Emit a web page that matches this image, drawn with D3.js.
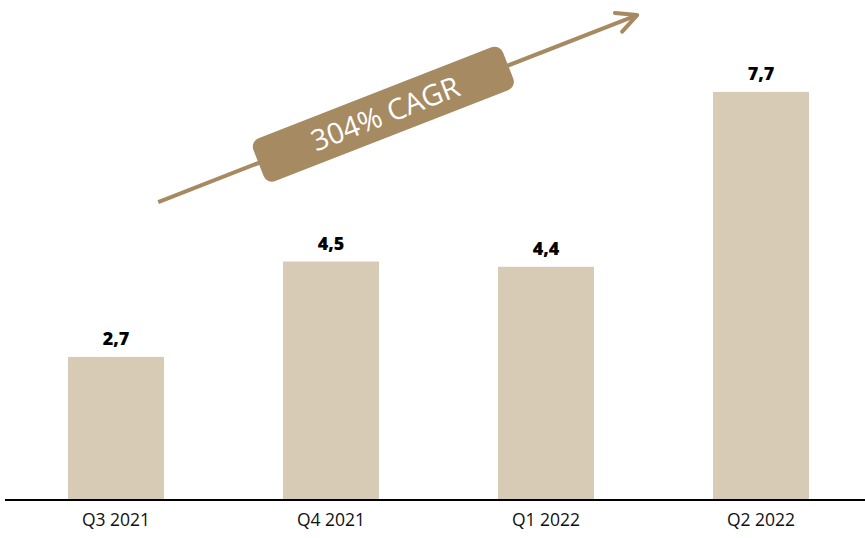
<!DOCTYPE html>
<html>
<head>
<meta charset="utf-8">
<script src="https://cdn.jsdelivr.net/npm/d3@7"></script>
<style>
  body { margin: 0; background: #fff; }
  svg { display: block; }
</style>
</head>
<body>
<div id="chart"></div>
<script>
const quarters = ['Q3 2021', 'Q4 2021', 'Q1 2022', 'Q2 2022'];
const values = [2.7, 4.5, 4.4, 7.7];
const valueLabels = ['2,7', '4,5', '4,4', '7,7'];
const cagrLabel = '304% CAGR';

const width = 865;
const height = 538;
const baseY = 500;

const barColour = '#d8cbb6';
const accent = '#a68a62';

const svg = d3.select('#chart')
     .append('svg')
          .attr('width', width)
          .attr('height', height);

const xScale = d3.scaleBand()
     .domain(quarters)
     .range([8.5, 868.5])
     .paddingInner(0.5535)
     .paddingOuter(0.27675);

const yScale = d3.scaleLinear()
     .domain([0, 8])
     .range([baseY, baseY - 424]);

// bars
svg.selectAll('rect.bar')
     .data(quarters)
     .enter()
          .append('rect')
               .attr('class', 'bar')
               .attr('x', (d) => xScale(d))
               .attr('y', (d, i) => yScale(values[i]))
               .attr('width', xScale.bandwidth())
               .attr('height', (d, i) => baseY - yScale(values[i]))
               .attr('fill', barColour);

// value labels
svg.selectAll('text.value')
     .data(quarters)
     .enter()
          .append('text')
               .attr('class', 'value')
               .attr('x', (d) => xScale(d) + xScale.bandwidth() / 2)
               .attr('y', (d, i) => yScale(values[i]) - 12)
               .attr('text-anchor', 'middle')
               .attr('font-family', 'Open Sans, sans-serif')
               .attr('font-weight', 800)
               .attr('font-size', 18)
               .attr('fill', '#000')
               .text((d, i) => valueLabels[i]);

// x axis
const xAxis = svg.append('g')
     .attr('transform', `translate(0, ${baseY})`)
     .call(d3.axisBottom(xScale).tickSize(0).tickPadding(14));
xAxis.select('.domain').remove();
xAxis.selectAll('text')
     .attr('font-family', 'Open Sans, sans-serif')
     .attr('font-size', 17.5)
     .attr('fill', '#111');

svg.append('line')
     .attr('x1', 5)
     .attr('x2', width)
     .attr('y1', yScale(0))
     .attr('y2', yScale(0))
     .attr('stroke', '#000')
     .attr('stroke-width', 2);

// growth arrow
const bw = xScale.bandwidth();
const start = [xScale(quarters[0]) + bw * 0.94, yScale(5.62)];
const end = [xScale(quarters[3]) - bw * 0.79, yScale(9.15)];
const angle = Math.atan2(end[1] - start[1], end[0] - start[0]) * 180 / Math.PI;
const len = Math.hypot(end[0] - start[0], end[1] - start[1]);

const arrow = svg.append('g')
     .attr('transform', `translate(${start[0]}, ${start[1]}) rotate(${angle})`);

arrow.append('line')
     .attr('x1', 0)
     .attr('x2', len)
     .attr('y1', 0)
     .attr('y2', 0)
     .attr('stroke', accent)
     .attr('stroke-width', 4);

arrow.append('path')
     .attr('d', `M${len - 20},-10 L${len},0 L${len - 20},10`)
     .attr('fill', 'none')
     .attr('stroke', accent)
     .attr('stroke-width', 4)
     .attr('stroke-linecap', 'round')
     .attr('stroke-linejoin', 'round');

const mid = len * 0.47;
arrow.append('rect')
     .attr('x', mid - 134)
     .attr('y', -23)
     .attr('width', 268)
     .attr('height', 46)
     .attr('rx', 9)
     .attr('fill', accent);

arrow.append('text')
     .attr('x', mid + 2)
     .attr('y', 0)
     .attr('dy', '0.36em')
     .attr('text-anchor', 'middle')
     .attr('font-family', 'Open Sans, sans-serif')
     .attr('font-size', 29)
     .attr('fill', '#fff')
     .text(cagrLabel);
</script>
</body>
</html>
